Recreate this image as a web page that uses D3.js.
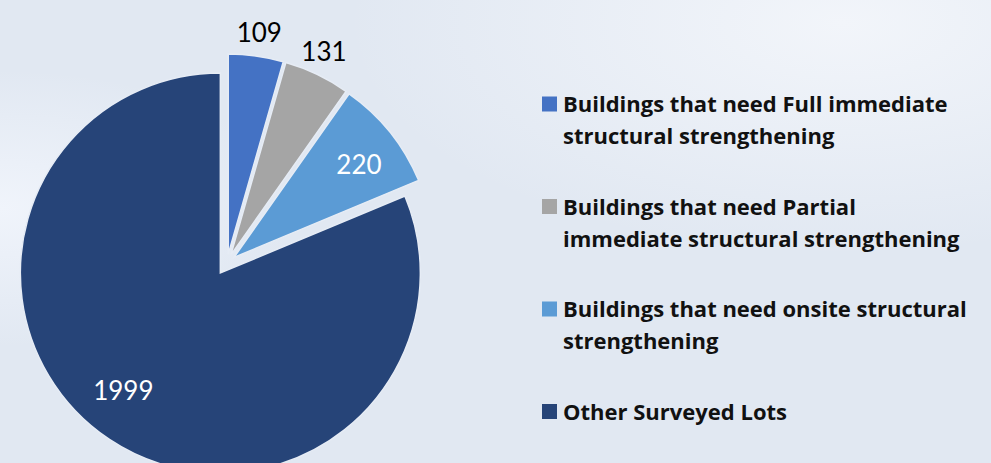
<!DOCTYPE html>
<html>
<head>
<meta charset="UTF-8">
<title>Surveyed lots pie</title>
<script src="https://cdnjs.cloudflare.com/ajax/libs/d3/7.9.0/d3.min.js"></script>
<style>
    body { margin: 0; background: #e2e9f3; }
    svg { display: block; }
</style>
</head>
<body>
<div id="chart"></div>
<script>
    // data
    const categories = [
        "Buildings that need Full immediate structural strengthening",
        "Buildings that need Partial immediate structural strengthening",
        "Buildings that need onsite structural strengthening",
        "Other Surveyed Lots"
    ];
    const counts = [109, 131, 220, 1999];
    const legendLines = [
        ["Buildings that need Full immediate", "structural strengthening"],
        ["Buildings that need Partial", "immediate structural strengthening"],
        ["Buildings that need onsite structural", "strengthening"],
        ["Other Surveyed Lots"]
    ];
    const colors = ["#4472c4", "#a5a5a5", "#5b9bd5", "#264478"];

    // styling
    const W = 991, H = 463;
    const center = {x: 227, y: 263};
    const radius = 200;
    const explode = [9, 9, 9, 12];
    // label placement: [distance from slice centre, angle shift in degrees, colour]
    const labelStyle = [
        [224, 0, "#000"],
        [224, -1, "#000"],
        [156, 2, "#fff"],
        [152, 6, "#fff"]
    ];

    const svg = d3.select("#chart").append("svg")
        .attr("width", W)
        .attr("height", H);

    // soft background
    const defs = svg.append("defs");
    const g1 = defs.append("radialGradient").attr("id", "glowTR")
        .attr("cx", 0.85).attr("cy", 0.05).attr("r", 0.5);
    g1.append("stop").attr("offset", 0).attr("stop-color", "#f2f5fa");
    g1.append("stop").attr("offset", 1).attr("stop-color", "#f2f5fa").attr("stop-opacity", 0);
    const g2 = defs.append("radialGradient").attr("id", "glowL")
        .attr("cx", 0.0).attr("cy", 0.45).attr("r", 0.3);
    g2.append("stop").attr("offset", 0).attr("stop-color", "#f0f4fb");
    g2.append("stop").attr("offset", 1).attr("stop-color", "#f0f4fb").attr("stop-opacity", 0);

    svg.append("rect").attr("width", W).attr("height", H).attr("fill", "#e1e8f2");
    svg.append("rect").attr("width", W).attr("height", H).attr("fill", "url(#glowTR)");
    svg.append("rect").attr("width", W).attr("height", H).attr("fill", "url(#glowL)");

    // pie
    const pie = d3.pie().sort(null).value(d => d);
    const arcs = pie(counts);
    const arc = d3.arc().innerRadius(0).outerRadius(radius);

    function offset(d, i) {
        const a = (d.startAngle + d.endAngle) / 2;
        return [explode[i] * Math.sin(a), -explode[i] * Math.cos(a)];
    }

    const pieG = svg.append("g")
        .attr("transform", `translate(${center.x},${center.y})`);

    const slices = pieG.selectAll("g.slice")
        .data(arcs)
        .enter().append("g")
        .attr("class", "slice")
        .attr("transform", (d, i) => {
            const o = offset(d, i);
            return `translate(${o[0]},${o[1]})`;
        });

    slices.append("path")
        .attr("d", arc)
        .attr("fill", (d, i) => colors[i])
        .attr("stroke", "#e6ecf5")
        .attr("stroke-width", 1.5)
        .attr("stroke-linejoin", "miter");

    slices.append("text")
        .attr("x", (d, i) => {
            const a = (d.startAngle + d.endAngle) / 2 + labelStyle[i][1] * Math.PI / 180;
            return labelStyle[i][0] * Math.sin(a);
        })
        .attr("y", (d, i) => {
            const a = (d.startAngle + d.endAngle) / 2 + labelStyle[i][1] * Math.PI / 180;
            return -labelStyle[i][0] * Math.cos(a);
        })
        .attr("text-anchor", "middle")
        .attr("dominant-baseline", "central")
        .attr("font-family", "Lato, 'Open Sans', sans-serif")
        .attr("font-size", 26)
        .attr("fill", (d, i) => labelStyle[i][2])
        .text(d => d.data);

    // legend
    const legendX = 542, legendTop = 104, rowGap = 102.5, lineGap = 32;
    const legend = svg.append("g");
    const rows = legend.selectAll("g.row")
        .data(categories)
        .enter().append("g")
        .attr("class", "row")
        .attr("transform", (d, i) => `translate(${legendX},${legendTop + i * rowGap})`);

    rows.append("rect")
        .attr("x", 0).attr("y", -7.5)
        .attr("width", 15).attr("height", 15)
        .attr("fill", (d, i) => colors[i]);

    rows.append("text")
        .attr("x", 21)
        .attr("font-family", "'Open Sans', sans-serif")
        .attr("font-weight", "bold")
        .attr("font-size", 22)
        .attr("fill", "#111")
        .selectAll("tspan")
        .data((d, i) => legendLines[i])
        .enter().append("tspan")
        .attr("x", 21)
        .attr("y", (d, j) => 8 + j * lineGap)
        .text(d => d);
</script>
</body>
</html>
